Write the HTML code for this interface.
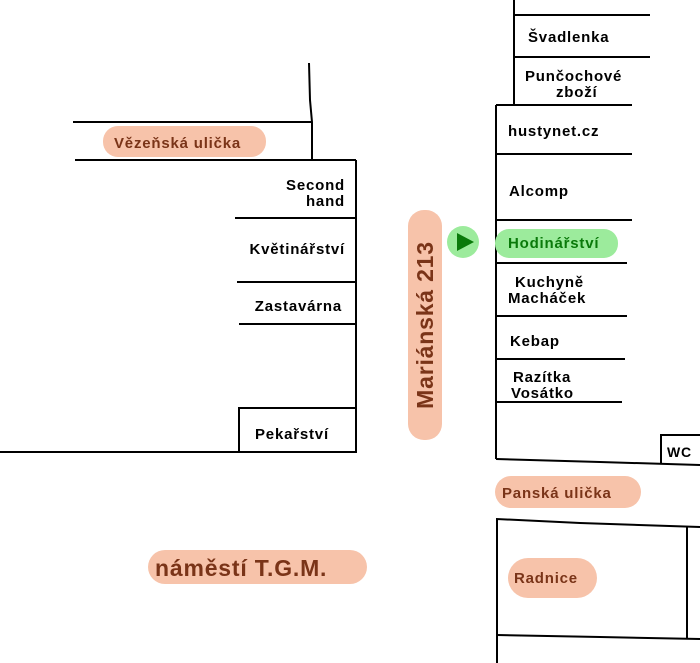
<!DOCTYPE html>
<html><head><meta charset="utf-8"><style>
html,body{margin:0;padding:0;background:#fff;}
svg{display:block}
text{font-family:"Liberation Sans",Arial,sans-serif;font-weight:bold;font-size:15px;letter-spacing:0.8px;fill:#000}
.b{fill:#7a3418}
</style></head><body>
<svg width="700" height="663" viewBox="0 0 700 663" xmlns="http://www.w3.org/2000/svg">
<g stroke="#000" stroke-width="2" fill="none">
<!-- left block -->
<polyline points="309,63 310,100 312,122 312,160"/>
<line x1="73" y1="122" x2="312" y2="122"/>
<line x1="75" y1="160" x2="356" y2="160"/>
<line x1="356" y1="160" x2="356" y2="453"/>
<line x1="235" y1="218" x2="356" y2="218"/>
<line x1="237" y1="282" x2="356" y2="282"/>
<line x1="239" y1="324" x2="356" y2="324"/>
<polyline points="239,452 239,408 356,408"/>
<line x1="0" y1="452" x2="356" y2="452"/>
<!-- right block -->
<line x1="514" y1="0" x2="514" y2="105"/>
<line x1="514" y1="15" x2="650" y2="15"/>
<line x1="514" y1="57" x2="650" y2="57"/>
<line x1="496" y1="105" x2="632" y2="105"/>
<line x1="496" y1="105" x2="496" y2="459"/>
<line x1="496" y1="154" x2="632" y2="154"/>
<line x1="496" y1="220" x2="632" y2="220"/>
<line x1="496" y1="263" x2="627" y2="263"/>
<line x1="496" y1="316" x2="627" y2="316"/>
<line x1="496" y1="359" x2="625" y2="359"/>
<line x1="496" y1="402" x2="622" y2="402"/>
<polyline points="496,459 600,462 700,465"/>
<polyline points="661,464 661,435 700,435"/>
<polyline points="497,663 497,519 580,523 700,527"/>
<line x1="687" y1="527" x2="687" y2="639"/>
<polyline points="497,635 600,637 700,639"/>
</g>
<!-- pills -->
<g fill="#f7c3aa">
<rect x="103" y="126" width="163" height="31" rx="15"/>
<rect x="408" y="210" width="34" height="230" rx="16"/>
<rect x="495" y="476" width="146" height="32" rx="16"/>
<rect x="508" y="558" width="89" height="40" rx="20"/>
<rect x="148" y="550" width="219" height="34" rx="17"/>
</g>
<rect x="495" y="229" width="123" height="29" rx="14" fill="#9ceb9c"/>
<circle cx="463" cy="242" r="16" fill="#9ceb9c"/>
<polygon points="457,233 457,251 474,242" fill="#0a7a0a"/>
<!-- labels -->
<text class="b" x="114" y="148">Vězeňská ulička</text>
<text x="345" y="190" text-anchor="end">Second</text>
<text x="345" y="206" text-anchor="end">hand</text>
<text x="345" y="254" text-anchor="end">Květinářství</text>
<text x="342" y="311" text-anchor="end">Zastavárna</text>
<text x="255" y="439">Pekařství</text>
<text x="528" y="42">Švadlenka</text>
<text x="525" y="81">Punčochové</text>
<text x="556" y="97">zboží</text>
<text x="508" y="136">hustynet.cz</text>
<text x="509" y="196">Alcomp</text>
<text x="508" y="248" style="fill:#0a7a0a">Hodinářství</text>
<text x="515" y="287">Kuchyně</text>
<text x="508" y="303">Macháček</text>
<text x="510" y="346">Kebap</text>
<text x="513" y="382">Razítka</text>
<text x="511" y="398">Vosátko</text>
<text x="667" y="457" style="font-size:14px">WC</text>
<text class="b" x="502" y="498">Panská ulička</text>
<text class="b" x="514" y="583">Radnice</text>
<text class="b" x="155" y="576" style="font-size:23px">náměstí T.G.M.</text>
<text class="b" transform="translate(433,325) rotate(-90)" text-anchor="middle" style="font-size:23px">Mariánská 213</text>
</svg>
</body></html>
